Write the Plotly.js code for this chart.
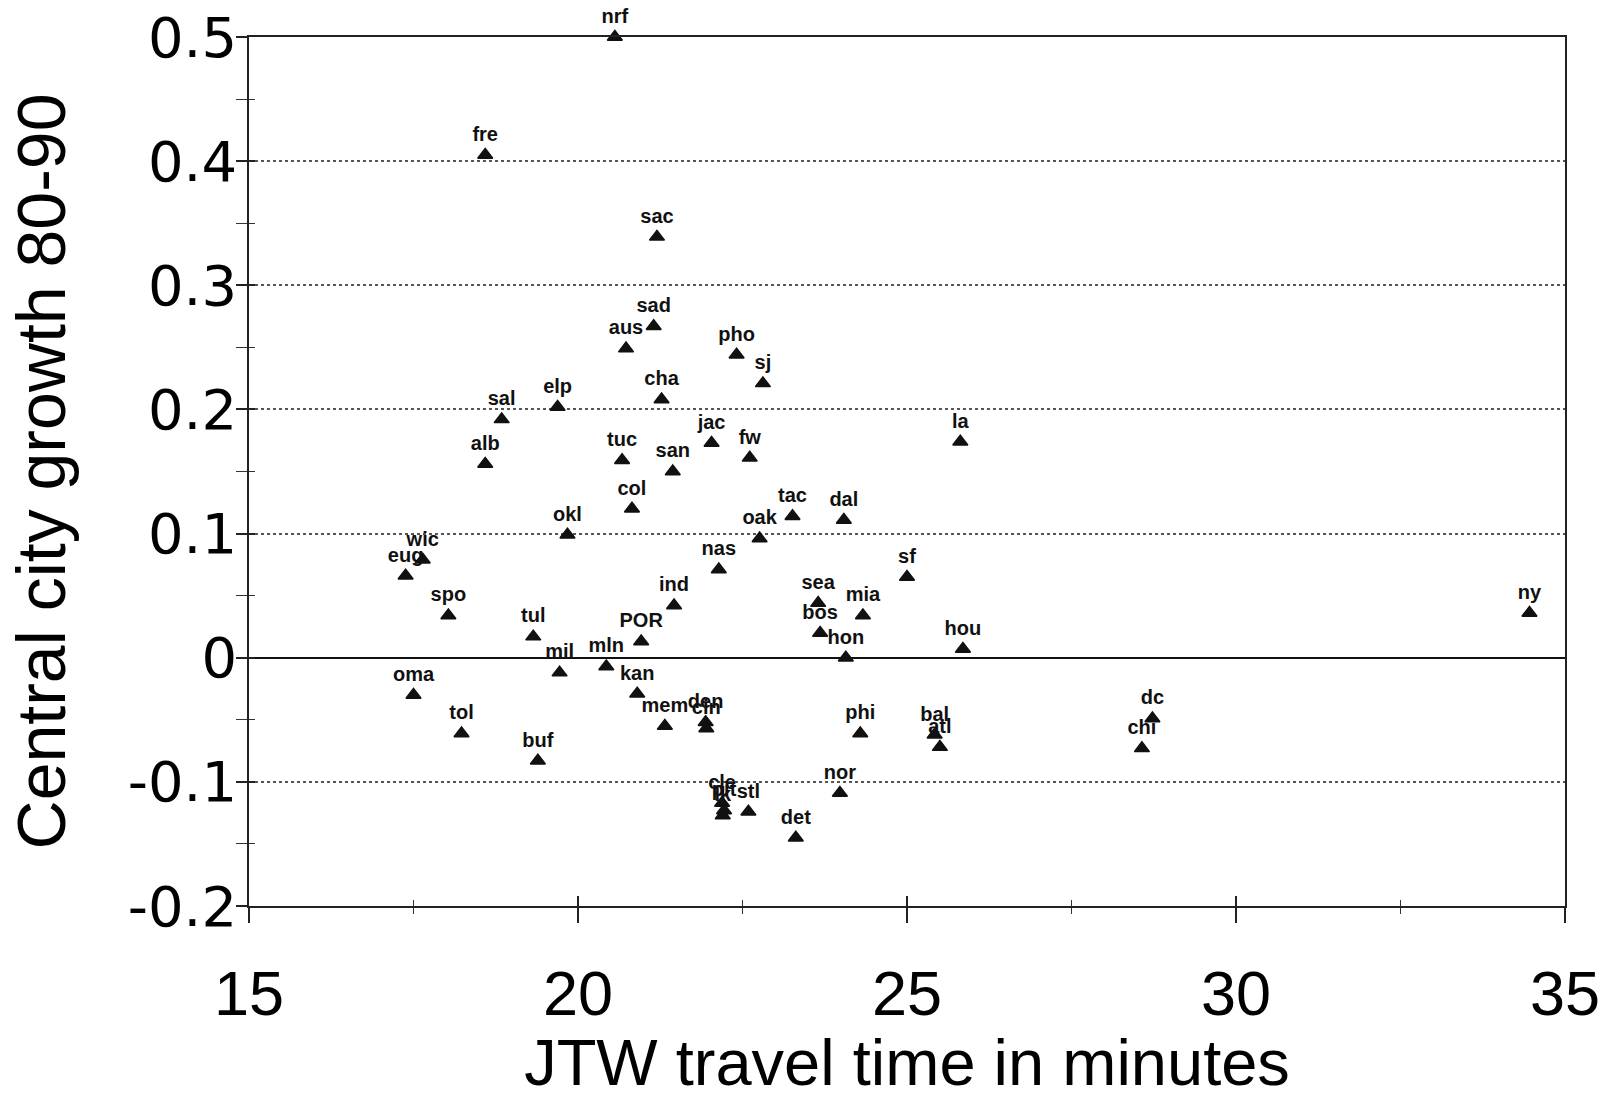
<!DOCTYPE html>
<html>
<head>
<meta charset="utf-8">
<script src="https://cdn.plot.ly/plotly-3.0.1.min.js"></script>
<style>
  html, body { margin: 0; padding: 0; background: #ffffff; }
  #chart { width: 1602px; height: 1099px; }
</style>
</head>
<body>
<div id="chart"></div>
<script>
// City labels
var cities = ["nrf","fre","sac","sad","aus","pho","sj","cha","elp","sal",
  "la","jac","fw","tuc","alb","san","col","tac","dal","okl",
  "oak","wic","nas","eug","sf","sea","ind","spo","mia","ny",
  "bos","tul","POR","hou","hon","mln","mil","oma","kan","mem",
  "den","cin","phi","tol","bal","atl","dc","chi","buf","nor",
  "cle","pit","stl","lk","det"];
// JTW travel time in minutes
var travelTime = [20.56,18.59,21.20,21.15,20.73,22.41,22.81,21.27,19.69,18.84,
  25.81,22.03,22.61,20.67,18.59,21.44,20.82,23.26,24.04,19.84,
  22.76,17.64,22.14,17.38,25.00,23.65,21.46,18.03,24.33,34.46,
  23.68,19.32,20.96,25.85,24.07,20.43,19.72,17.50,20.90,21.32,
  21.94,21.95,24.29,18.23,25.42,25.50,28.73,28.57,19.39,23.98,
  22.19,22.22,22.59,22.20,23.31];
// Central city growth 80-90
var growth = [0.500,0.405,0.339,0.267,0.249,0.244,0.221,0.208,0.202,0.192,
  0.174,0.173,0.161,0.159,0.156,0.150,0.120,0.114,0.111,0.099,
  0.096,0.079,0.071,0.066,0.065,0.044,0.042,0.034,0.034,0.036,
  0.020,0.017,0.013,0.007,0.000,-0.007,-0.012,-0.030,-0.029,-0.055,
  -0.052,-0.057,-0.061,-0.061,-0.062,-0.072,-0.049,-0.073,-0.083,-0.109,
  -0.117,-0.123,-0.124,-0.127,-0.145];

var yTickVals = [-0.2,-0.1,0,0.1,0.2,0.3,0.4,0.5];
var yTickText = ["-0.2","-0.1","0","0.1","0.2","0.3","0.4","0.5"];
var xTickVals = [15,20,25,30,35];
var xTickText = ["15","20","25","30","35"];

var xRange = [15, 35];
var yRange = [-0.2, 0.5];

var labelFont = 'Liberation Sans Narrow, Arial Narrow, Liberation Sans, Arial, sans-serif';

var traces = [
  {
    type: 'scatter',
    mode: 'markers+text',
    x: travelTime,
    y: growth,
    text: cities,
    textposition: 'top center',
    textfont: { family: labelFont, size: 20, color: '#111111', weight: 'bold' },
    marker: { symbol: 'triangle-up', size: 13, color: '#111111',
              line: { color: '#111111', width: 1.5 } },
    cliponaxis: false,
    hoverinfo: 'x+y+text',
    showlegend: false
  },
  {
    type: 'scatter',
    mode: 'markers',
    x: [],
    y: [],
    xaxis: 'x2',
    yaxis: 'y2',
    showlegend: false,
    hoverinfo: 'skip'
  }
];

var layout = {
  width: 1602,
  height: 1099,
  margin: { l: 249, r: 37, t: 37, b: 193, pad: 0 },
  paper_bgcolor: '#ffffff',
  plot_bgcolor: '#ffffff',
  showlegend: false,
  xaxis: {
    range: xRange,
    tickmode: 'array',
    tickvals: xTickVals,
    ticktext: xTickText,
    ticks: 'outside',
    ticklen: 15,
    tickwidth: 1.5,
    tickcolor: '#222222',
    minor: { dtick: 2.5, tick0: 15, ticks: 'outside', ticklen: 6, tickwidth: 1.2, tickcolor: '#333333', showgrid: false },
    showgrid: false,
    zeroline: false,
    showline: true,
    linecolor: '#222222',
    linewidth: 2,
    mirror: true,
    ticklabelstandoff: 16,
    tickfont: { family: 'Liberation Sans Narrow, Arial Narrow, Liberation Sans, Arial, sans-serif', size: 63, color: '#000000' },
    title: { text: 'JTW travel time in minutes', standoff: 16,
             font: { family: 'Liberation Sans, Arial, sans-serif', size: 65, color: '#000000' } },
    automargin: false
  },
  yaxis: {
    range: yRange,
    tickmode: 'array',
    tickvals: yTickVals,
    ticktext: yTickText,
    ticks: 'outside',
    ticklen: 11,
    tickwidth: 1.5,
    tickcolor: '#222222',
    minor: { dtick: 0.05, tick0: 0, ticks: 'outside', ticklen: 11, tickwidth: 1.2, tickcolor: '#333333', showgrid: false },
    showgrid: true,
    gridcolor: '#555555',
    gridwidth: 1.5,
    griddash: 'dot',
    zeroline: true,
    zerolinecolor: '#111111',
    zerolinewidth: 2,
    showline: true,
    linecolor: '#222222',
    linewidth: 1.5,
    mirror: true,
    ticklabelstandoff: -12,
    tickfont: { family: 'DejaVu Sans, Liberation Sans, Arial, sans-serif', size: 56, color: '#000000' },
    title: { text: 'Central city growth 80-90', standoff: 40,
             font: { family: 'Liberation Sans, Arial, sans-serif', size: 68, color: '#000000' } },
    automargin: false
  },
  xaxis2: {
    overlaying: 'x',
    anchor: 'y',
    side: 'bottom',
    range: xRange,
    tickmode: 'array',
    tickvals: xTickVals,
    ticks: 'inside',
    ticklen: 10,
    tickwidth: 1.5,
    tickcolor: '#222222',
    minor: { dtick: 2.5, tick0: 15, ticks: 'inside', ticklen: 6, tickwidth: 1.2, tickcolor: '#333333', showgrid: false },
    showticklabels: false,
    showgrid: false,
    zeroline: false,
    showline: false
  },
  yaxis2: {
    overlaying: 'y',
    anchor: 'x',
    side: 'left',
    range: yRange,
    tickmode: 'array',
    tickvals: yTickVals,
    ticks: 'inside',
    ticklen: 6,
    tickwidth: 1.5,
    tickcolor: '#222222',
    minor: { dtick: 0.05, tick0: 0, ticks: 'inside', ticklen: 6, tickwidth: 1.2, tickcolor: '#333333', showgrid: false },
    showticklabels: false,
    showgrid: false,
    zeroline: false,
    showline: false
  }
};

Plotly.newPlot('chart', traces, layout, { displayModeBar: false, staticPlot: false });
</script>
</body>
</html>
